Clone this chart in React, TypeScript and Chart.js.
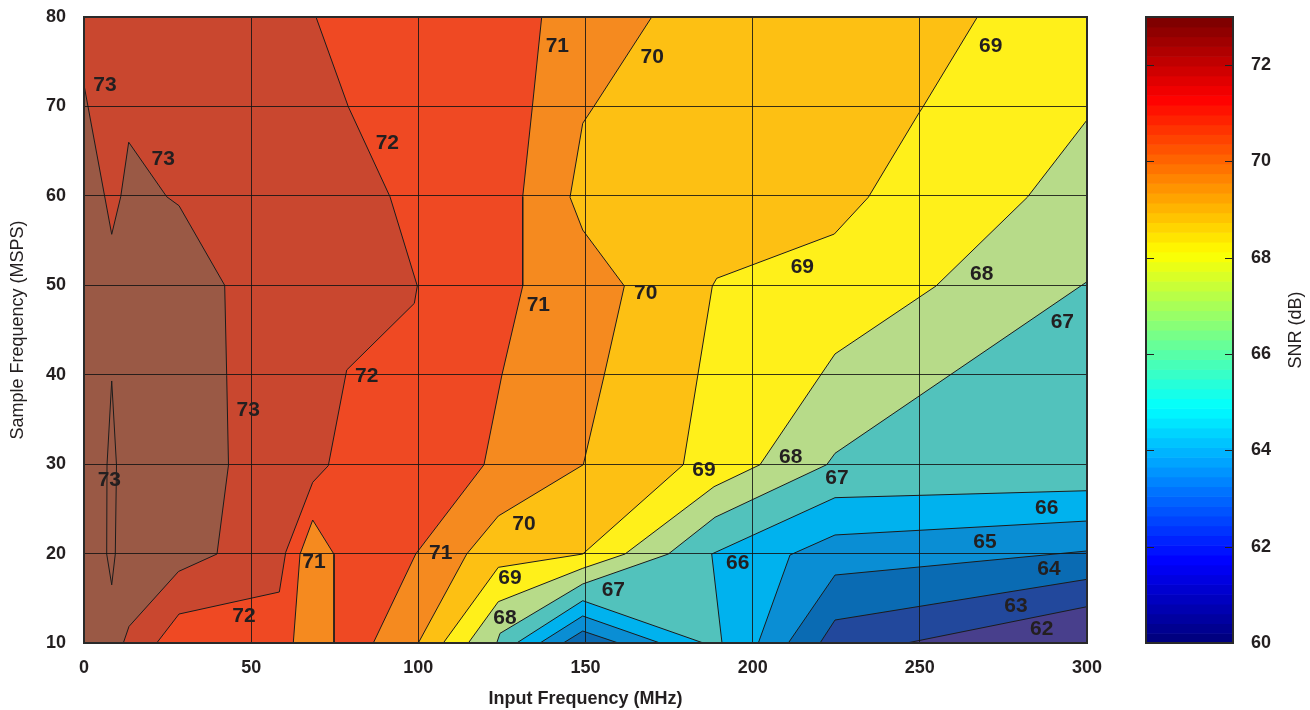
import { useEffect, useRef } from 'react';
import { Chart, registerables } from 'chart.js';

Chart.register(...registerables);

type P = [number, number];

// ---- Axis settings ----
const xMin = 0;
const xMax = 300;
const xStep = 50;
const yMin = 10;
const yMax = 80;
const yStep = 10;
const xTitle = 'Input Frequency (MHz)';
const yTitle = 'Sample Frequency (MSPS)';
const cbTitle = 'SNR (dB)';
const cbMin = 60;
const cbMax = 73;
const cbStep = 2;
const cbBands = 64;

// ---- Contour lines (Input MHz, Sample MSPS) ----
const contour73: P[] = [[0, 72.4], [8.29, 55.7], [10.98, 59.9], [13.37, 66.0], [24.74, 59.9], [28.42, 58.9], [42.08, 50.0], [42.68, 39.9], [43.22, 29.9], [39.78, 19.95], [28.27, 18.0], [13.46, 11.85], [11.76, 10]];
const island73: P[] = [[8.29, 39.3], [9.72, 29.9], [9.36, 19.95], [8.29, 16.5], [6.79, 19.95], [6.88, 29.9], [8.29, 39.3]];
const contour72: P[] = [[69.39, 80], [79.05, 69.97], [91.53, 59.9], [99.69, 49.92], [98.8, 47.98], [78.58, 40.53], [73.07, 29.83], [68.41, 27.97], [60.33, 20.14], [58.42, 15.7], [28.42, 13.24], [21.75, 10]];
const contour71: P[] = [[136.9, 80], [134.09, 69.9], [131.22, 59.9], [131.22, 49.92], [124.94, 39.86], [119.64, 29.94], [99.22, 19.95], [86.53, 10]];
const hole71: P[] = [[62.6, 10], [64.61, 19.92], [68.41, 23.75], [74.78, 19.92], [74.78, 10]];
const contour70: P[] = [[169.81, 80], [152.34, 69.9], [149.17, 68.11], [145.37, 59.84], [149.17, 56.18], [161.61, 49.92], [155.54, 39.86], [149.35, 29.94], [123.92, 24.2], [114.47, 19.95], [99.99, 10]];
const contour69: P[] = [[267.2, 80], [250.86, 69.9], [249.55, 69.15], [234.59, 59.84], [224.42, 55.73], [189.25, 50.78], [187.93, 49.92], [183.56, 39.86], [179.26, 29.94], [149.17, 19.95], [123.92, 18.46], [107.47, 10]];
const contour68: P[] = [[300, 68.48], [282.15, 59.84], [254.84, 49.92], [224.63, 42.32], [220.15, 39.86], [202.2, 29.94], [188.44, 27.48], [161.82, 19.95], [149.17, 18.35], [123.92, 14.62], [114.95, 10]];
const contour67: P[] = [[300, 50.4], [224.63, 31.21], [222.15, 29.94], [188.74, 24.06], [174.77, 19.95], [149.17, 16.6], [124.43, 11.08], [123.44, 10]];
const contour66: P[] = [[300, 27.03], [224.63, 26.25], [187.75, 19.95], [190.83, 10]];
const wedge66: P[] = [[129.42, 10], [149.17, 14.73], [185.24, 10]];
const wedge65: P[] = [[136.39, 10], [149.17, 13.02], [172.29, 10]];
const wedge64: P[] = [[143.36, 10], [149.17, 11.34], [159.82, 10]];
const contour65: P[] = [[300, 23.64], [224.63, 22.08], [211.17, 19.84], [201.69, 10]];
const contour64: P[] = [[300, 20.29], [224.63, 17.6], [210.66, 10]];
const contour63: P[] = [[300, 17.12], [224.63, 12.57], [220.15, 10]];
const contour62: P[] = [[300, 14.06], [246.08, 10]];

// ---- Contour labels ----
const labelText = ['73', '73', '73', '73', '72', '72', '72', '71', '71', '71', '71', '70', '70', '70', '69', '69', '69', '69', '68', '68', '68', '67', '67', '67', '66', '66', '65', '64', '63', '62'];
const labelX = [6.28, 23.72, 49.14, 7.57, 90.72, 84.56, 47.86, 141.57, 135.89, 106.69, 68.8, 169.98, 168.01, 131.61, 271.2, 214.85, 185.45, 127.42, 268.51, 211.38, 125.93, 292.62, 225.23, 158.32, 287.95, 195.53, 269.5, 288.64, 278.77, 286.46];
const labelY = [72.4, 64.12, 36.05, 28.23, 65.88, 39.86, 13.02, 76.76, 47.8, 20.03, 18.98, 75.45, 49.1, 23.31, 76.68, 52.01, 29.27, 17.23, 51.26, 30.83, 12.76, 45.82, 28.45, 15.93, 25.06, 18.91, 21.22, 18.27, 14.06, 11.57];

// ---- Band colours (style) ----
const C = {
  b61: '#483F8C',
  b62: '#22489C',
  b63: '#0A6BB3',
  b64: '#0A8ED4',
  b65: '#00B2EE',
  b66: '#52C2BC',
  b67: '#B7DB89',
  b68: '#FFF01A',
  b69: '#FDC013',
  b70: '#F58A1F',
  b71: '#EF4923',
  b72: '#C9472F',
  b73: '#9A5945',
};

const FONT = '"Liberation Sans", Arial, Helvetica, sans-serif';
const TXT = '#231f20';

const closeRight: P[] = [[xMin, yMin], [xMin, yMax], [xMax, yMax]];
const closeTop: P[] = [[xMin, yMin], [xMin, yMax]];
const closeLeft: P[] = [[xMin, yMin]];

const toXY = (pts: P[]) => pts.map(([x, y]) => ({ x, y }));

function jet(t: number) {
  const c = (v: number) => Math.round(255 * Math.max(0, Math.min(1, v)));
  return `rgb(${c(1.5 - Math.abs(4 * t - 3))},${c(1.5 - Math.abs(4 * t - 2))},${c(1.5 - Math.abs(4 * t - 1))})`;
}

function buildDatasets() {
  const fills: { pts: P[]; color: string }[] = [
    { pts: [[xMin, yMin], [xMin, yMax], [xMax, yMax], [xMax, yMin]], color: C.b61 },
    { pts: [...contour62, ...closeRight], color: C.b62 },
    { pts: [...contour63, ...closeRight], color: C.b63 },
    { pts: [...contour64, ...closeRight], color: C.b64 },
    { pts: [...contour65, ...closeRight], color: C.b65 },
    { pts: [...contour66, ...closeRight], color: C.b66 },
    { pts: wedge66, color: C.b65 },
    { pts: wedge65, color: C.b64 },
    { pts: wedge64, color: C.b63 },
    { pts: [...contour67, ...closeRight], color: C.b67 },
    { pts: [...contour68, ...closeRight], color: C.b68 },
    { pts: [...contour69, ...closeTop], color: C.b69 },
    { pts: [...contour70, ...closeTop], color: C.b70 },
    { pts: [...contour71, ...closeTop], color: C.b71 },
    { pts: hole71, color: C.b70 },
    { pts: [...contour72, ...closeTop], color: C.b72 },
    { pts: [...contour73, ...closeLeft], color: C.b73 },
  ];
  const n = fills.length;
  const fillSets = fills.map((f, i) => ({
    data: toXY(f.pts),
    fill: 'shape' as const,
    backgroundColor: f.color,
    borderColor: 'rgba(0,0,0,0)',
    borderWidth: 0,
    pointRadius: 0,
    order: 100 + (n - i),
  }));
  const lines = [contour73, island73, contour72, contour71, hole71, contour70, contour69, contour68, contour67, contour66, wedge66, wedge65, wedge64, contour65, contour64, contour63, contour62];
  const lineSets = lines.map((l) => ({
    data: toXY(l),
    fill: false,
    borderColor: '#1c1c1c',
    borderWidth: 1,
    pointRadius: 0,
    order: 1,
  }));
  return [...fillSets, ...lineSets];
}

const mainPlugin = {
  id: 'mainDecor',
  afterDraw(chart: any) {
    const { ctx, chartArea: a, scales } = chart;
    const x = scales.x;
    const y = scales.y;
    ctx.save();
    ctx.lineWidth = 2;
    ctx.strokeStyle = '#2a2a2a';
    ctx.strokeRect(a.left, a.top, a.right - a.left, a.bottom - a.top);
    ctx.font = `bold 21px ${FONT}`;
    ctx.fillStyle = TXT;
    ctx.textAlign = 'center';
    ctx.textBaseline = 'middle';
    labelText.forEach((t, i) => {
      ctx.fillText(t, x.getPixelForValue(labelX[i]), y.getPixelForValue(labelY[i]));
    });
    ctx.restore();
  },
};

const cbPlugin = {
  id: 'colorbar',
  beforeDatasetsDraw(chart: any) {
    const { ctx, chartArea: a, scales } = chart;
    const y = scales.y;
    ctx.save();
    const step = (cbMax - cbMin) / cbBands;
    for (let k = 0; k < cbBands; k++) {
      const v0 = cbMin + k * step;
      const y0 = y.getPixelForValue(v0);
      const y1 = y.getPixelForValue(v0 + step);
      ctx.fillStyle = jet(k / (cbBands - 1));
      ctx.fillRect(a.left, y1, a.right - a.left, y0 - y1 + 0.6);
    }
    ctx.restore();
  },
  afterDraw(chart: any) {
    const { ctx, chartArea: a, scales } = chart;
    const y = scales.y;
    ctx.save();
    ctx.strokeStyle = '#222';
    ctx.lineWidth = 1;
    y.ticks.forEach((t: any) => {
      const py = Math.round(y.getPixelForValue(t.value)) + 0.5;
      ctx.beginPath();
      ctx.moveTo(a.left, py);
      ctx.lineTo(a.left + 8, py);
      ctx.moveTo(a.right - 8, py);
      ctx.lineTo(a.right, py);
      ctx.stroke();
    });
    ctx.lineWidth = 2;
    ctx.strokeStyle = '#2a2a2a';
    ctx.strokeRect(a.left, a.top, a.right - a.left, a.bottom - a.top);
    ctx.translate(176, (a.top + a.bottom) / 2);
    ctx.rotate(-Math.PI / 2);
    ctx.font = `18px ${FONT}`;
    ctx.fillStyle = TXT;
    ctx.textAlign = 'center';
    ctx.textBaseline = 'middle';
    ctx.fillText(cbTitle, 0, 0);
    ctx.restore();
  },
};

export default function App() {
  const mainRef = useRef<HTMLCanvasElement>(null);
  const cbRef = useRef<HTMLCanvasElement>(null);

  useEffect(() => {
    const tickFont = { family: FONT, size: 18, weight: 'bold' as const };
    const main = new Chart(mainRef.current as HTMLCanvasElement, {
      type: 'line',
      data: { datasets: buildDatasets() as any },
      options: {
        animation: false,
        responsive: false,
        devicePixelRatio: 1,
        events: [],
        layout: { padding: { left: 0, top: 17, right: 33, bottom: 0 } },
        plugins: {
          legend: { display: false },
          tooltip: { enabled: false },
          filler: { propagate: false },
        },
        elements: { point: { radius: 0 }, line: { tension: 0 } },
        scales: {
          x: {
            type: 'linear',
            min: xMin,
            max: xMax,
            ticks: { stepSize: xStep, padding: 14, font: tickFont, color: TXT, maxRotation: 0 },
            grid: { color: 'rgba(20,20,20,0.85)', lineWidth: 1, drawTicks: false, z: 1 },
            border: { display: false },
            title: { display: true, text: xTitle, font: { family: FONT, size: 18, weight: 'bold' }, color: TXT, padding: { top: 0, bottom: 0 } },
            afterFit: (s: any) => { s.height = 67; s.paddingLeft = 0; s.paddingRight = 0; },
          },
          y: {
            type: 'linear',
            min: yMin,
            max: yMax,
            ticks: { stepSize: yStep, padding: 18, font: tickFont, color: TXT },
            grid: { color: 'rgba(20,20,20,0.85)', lineWidth: 1, drawTicks: false, z: 1 },
            border: { display: false },
            title: { display: true, text: yTitle, font: { family: FONT, size: 18, weight: 'normal' }, color: TXT, padding: { top: 7.5, bottom: 0 } },
            afterFit: (s: any) => { s.width = 84; s.paddingTop = 0; s.paddingBottom = 0; },
          },
        },
      } as any,
      plugins: [mainPlugin],
    });

    const cb = new Chart(cbRef.current as HTMLCanvasElement, {
      type: 'line',
      data: { datasets: [] },
      options: {
        animation: false,
        responsive: false,
        devicePixelRatio: 1,
        events: [],
        layout: { padding: { left: 26, top: 17, right: 0, bottom: 67 } },
        plugins: { legend: { display: false }, tooltip: { enabled: false } },
        scales: {
          x: { type: 'linear', display: false, min: 0, max: 1 },
          y: {
            type: 'linear',
            position: 'right',
            min: cbMin,
            max: cbMax,
            ticks: { stepSize: cbStep, includeBounds: false, padding: 18, font: tickFont, color: TXT },
            grid: { display: false, drawTicks: false },
            border: { display: false },
            afterFit: (s: any) => { s.width = 77; s.paddingTop = 0; s.paddingBottom = 0; },
          },
        },
      } as any,
      plugins: [cbPlugin],
    });

    return () => {
      main.destroy();
      cb.destroy();
    };
  }, []);

  return (
    <div style={{ position: 'absolute', left: 0, top: 0, width: 1310, height: 710, background: '#fff' }}>
      <canvas ref={mainRef} width={1120} height={710} style={{ position: 'absolute', left: 0, top: 0, width: 1120, height: 710 }} />
      <canvas ref={cbRef} width={190} height={710} style={{ position: 'absolute', left: 1120, top: 0, width: 190, height: 710 }} />
    </div>
  );
}
